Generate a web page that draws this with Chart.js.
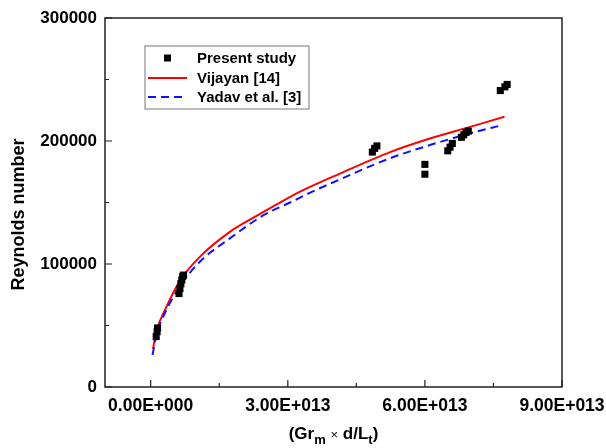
<!DOCTYPE html>
<html>
<head>
<meta charset="utf-8">
<script src="https://cdn.jsdelivr.net/npm/chart.js@4.4.0/dist/chart.umd.min.js"></script>
<style>
  html, body { margin: 0; padding: 0; background: #fff; }
  #wrap { width: 606px; height: 448px; }
</style>
</head>
<body>
<div id="wrap"><canvas id="chart" width="606" height="448"></canvas></div>
<script>
// Present study (measured points)
const presentX = [1.2e12, 1.4e12, 1.5e12, 6.2e12, 6.4e12, 6.6e12, 6.8e12, 7.0e12, 7.2e12,
  4.85e13, 4.9e13, 4.95e13, 6.0e13, 6.0e13, 6.5e13, 6.55e13, 6.6e13,
  6.8e13, 6.85e13, 6.9e13, 6.95e13, 7.65e13, 7.75e13, 7.8e13];
const presentY = [41000, 45000, 48000, 76000, 80000, 84000, 87000, 90000, 91000,
  191000, 194000, 196000, 181000, 173000, 192000, 195000, 198000,
  203000, 205000, 207000, 208000, 241000, 244000, 246000];

// Vijayan [14] correlation
const vijayanX = [0.5e12, 1.3e12, 3.1e12, 6.5e12, 10.8e12, 17.4e12, 21.7e12, 27.6e12, 32.7e12,
  41.4e12, 52.4e12, 61.1e12, 69.9e12, 77.4e12];
const vijayanY = [31000, 46000, 62500, 87000, 106000, 126300, 136000, 148500, 158800,
  173500, 191000, 202000, 211500, 219700];

// Yadav et al. [3] correlation
const yadavX = [0.4e12, 1.3e12, 3.1e12, 6.4e12, 10.8e12, 17.4e12, 24.6e12, 30.5e12, 34.9e12,
  41.4e12, 52.4e12, 61.1e12, 69.9e12, 77.0e12];
const yadavY = [26000, 43000, 60000, 82000, 102000, 121000, 139500, 150000, 158000,
  168800, 186000, 196700, 206200, 213000];

const xTicks = [0, 3e13, 6e13, 9e13];
const xMinor = [1.5e13, 4.5e13, 7.5e13];
const yTicks = [0, 100000, 200000, 300000];
const yMinor = [50000, 150000, 250000];

const FONT = '"Liberation Sans", Arial, sans-serif';

function sci(v) {
  if (v === 0) return '0.00E+000';
  const [m, e] = v.toExponential(2).split('e');
  return m + 'E' + e[0] + e.slice(1).padStart(3, '0');
}

const pts = (xs, ys) => xs.map((x, i) => ({ x: x, y: ys[i] }));

// frame, inward ticks, axis titles, legend box
const decor = {
  id: 'decor',
  afterDraw(chart) {
    const { ctx, chartArea: a, scales: { x, y } } = chart;
    ctx.save();
    ctx.strokeStyle = '#222';
    ctx.lineWidth = 1.5;
    ctx.strokeRect(a.left, a.top, a.right - a.left, a.bottom - a.top);

    ctx.lineWidth = 1.2;
    ctx.beginPath();
    xTicks.forEach(v => { const px = x.getPixelForValue(v); ctx.moveTo(px, a.bottom); ctx.lineTo(px, a.bottom - 7); });
    xMinor.forEach(v => { const px = x.getPixelForValue(v); ctx.moveTo(px, a.bottom); ctx.lineTo(px, a.bottom - 4); });
    yTicks.forEach(v => { const py = y.getPixelForValue(v); ctx.moveTo(a.left, py); ctx.lineTo(a.left + 7, py); });
    yMinor.forEach(v => { const py = y.getPixelForValue(v); ctx.moveTo(a.left, py); ctx.lineTo(a.left + 4, py); });
    ctx.stroke();

    // y title
    ctx.fillStyle = '#000';
    ctx.font = 'bold 18px ' + FONT;
    ctx.textAlign = 'center';
    ctx.textBaseline = 'middle';
    ctx.save();
    ctx.translate(19, (a.top + a.bottom) / 2 + 12);
    ctx.rotate(-Math.PI / 2);
    ctx.fillText('Reynolds number', 0, 0);
    ctx.restore();

    // x title with subscripts
    const parts = [
      ['(Gr', 'bold 17px ', 0], ['m', 'bold 13px ', 5], [' ', 'bold 17px ', 0],
      ['\u00d7', '13px ', 0], [' d/L', 'bold 17px ', 0], ['t', 'bold 13px ', 5], [')', 'bold 17px ', 0]
    ];
    let w = 0;
    parts.forEach(p => { ctx.font = p[1] + FONT; w += ctx.measureText(p[0]).width; });
    let cx = (a.left + a.right) / 2 - w / 2;
    ctx.textAlign = 'left';
    ctx.textBaseline = 'alphabetic';
    parts.forEach(p => { ctx.font = p[1] + FONT; ctx.fillText(p[0], cx, 439 + p[2]); cx += ctx.measureText(p[0]).width; });

    // legend
    const lx = 145, ly = 46, lw = 164, lh = 63;
    ctx.strokeStyle = '#777';
    ctx.lineWidth = 1;
    ctx.strokeRect(lx, ly, lw, lh);
    ctx.font = 'bold 15px ' + FONT;
    ctx.textBaseline = 'middle';
    const rows = [ly + 12, ly + 32, ly + 51];
    chart.data.datasets.forEach((ds, i) => {
      const ry = rows[i];
      if (i === 0) {
        ctx.fillStyle = '#000';
        ctx.fillRect(lx + 19, ry - 3.5, 7, 7);
      } else {
        ctx.strokeStyle = ds.borderColor;
        ctx.lineWidth = 2;
        ctx.setLineDash(ds.borderDash || []);
        ctx.beginPath();
        ctx.moveTo(lx + 3, ry); ctx.lineTo(lx + 42, ry);
        ctx.stroke();
        ctx.setLineDash([]);
      }
      ctx.fillStyle = '#000';
      ctx.fillText(ds.label, lx + 52, ry + 1);
    });
    ctx.restore();
  }
};

new Chart(document.getElementById('chart'), {
  type: 'scatter',
  data: {
    datasets: [
      { label: 'Present study', data: pts(presentX, presentY), pointStyle: 'rect', pointRadius: 5,
        backgroundColor: '#000', borderColor: '#000', borderWidth: 0, order: 0 },
      { label: 'Vijayan [14]', data: pts(vijayanX, vijayanY), showLine: true, pointRadius: 0,
        borderColor: '#ff0000', borderWidth: 2, cubicInterpolationMode: 'monotone', order: 2 },
      { label: 'Yadav et al. [3]', data: pts(yadavX, yadavY), showLine: true, pointRadius: 0,
        borderColor: '#1010ff', borderWidth: 2, borderDash: [8, 5], cubicInterpolationMode: 'monotone', order: 1 }
    ]
  },
  options: {
    responsive: false,
    animation: false,
    layout: { padding: { top: 18, right: 44, left: 0, bottom: 0 } },
    plugins: { legend: { display: false }, tooltip: { enabled: false } },
    scales: {
      x: {
        type: 'linear', min: -1e13, max: 9e13,
        grid: { display: false, drawTicks: false },
        border: { display: false },
        afterBuildTicks: s => { s.ticks = xTicks.map(v => ({ value: v })); },
        afterFit: s => { s.height = 61; s.paddingLeft = 0; s.paddingRight = 0; },
        ticks: { color: '#000', padding: 9, maxRotation: 0, font: { family: FONT, size: 17.5, weight: 'bold' }, callback: v => sci(v) }
      },
      y: {
        type: 'linear', min: 0, max: 300000,
        grid: { display: false, drawTicks: false },
        border: { display: false },
        afterBuildTicks: s => { s.ticks = yTicks.map(v => ({ value: v })); },
        afterFit: s => { s.width = 105; s.paddingTop = 0; s.paddingBottom = 0; },
        ticks: { color: '#000', padding: 8, font: { family: FONT, size: 17, weight: 'bold' }, callback: v => String(v) }
      }
    }
  },
  plugins: [decor]
});
</script>
</body>
</html>
